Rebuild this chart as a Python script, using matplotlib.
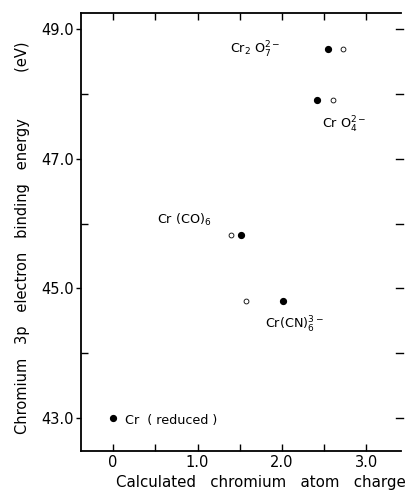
import matplotlib
matplotlib.use("Agg")
import matplotlib.pyplot as plt
import numpy as np

# Data (calculated charge, Cr 3p binding energy)
compounds = ["Cr2O7", "CrO4", "Cr(CO)6", "Cr(CN)6", "Cr reduced"]
filled_x = [2.54, 2.41, 1.51, 2.01, 0.0]
filled_y = [48.69, 47.90, 45.83, 44.80, 43.0]
open_x = [2.72, 2.60, 1.40, 1.57]
open_y = [48.69, 47.90, 45.83, 44.80]

labels = [r"Cr$_2$ O$_7^{2-}$", r"Cr O$_4^{2-}$", r"Cr (CO)$_6$",
          r"Cr(CN)$_6^{3-}$", "Cr  ( reduced )"]
label_x = [1.38, 2.47, 0.52, 1.80, 0.14]
label_y = [48.68, 47.52, 46.05, 44.43, 42.96]

xticks = [0, 1.0, 2.0, 3.0]
xticklabels = ["0", "1.0", "2.0", "3.0"]
yticks = [43.0, 45.0, 47.0, 49.0]
yticklabels = ["43.0", "45.0", "47.0", "49.0"]

plt.rcParams['font.family'] = ['DejaVu Sans']
plt.rcParams['mathtext.fontset'] = 'dejavusans'

fig = plt.figure(figsize=(4.06, 4.91), dpi=100)
ax = fig.add_axes([81/406, 1-451/491, 320/406, 438/491])
ax.set_xlim(-0.38, 3.41)
ax.set_ylim(42.49, 49.25)

ax.plot(filled_x, filled_y, 'o', color='black', markersize=4.2, linestyle='none')
ax.plot(open_x, open_y, 'o', markerfacecolor='white', markeredgecolor='black',
        markeredgewidth=0.6, markersize=3.5, linestyle='none')

for t, x, y in zip(labels, label_x, label_y):
    ax.text(x, y, t, fontsize=9.2, va='center', ha='left')

ax.spines['right'].set_visible(False)
for s in ['left', 'bottom', 'top']:
    ax.spines[s].set_linewidth(1.3)

ax.set_xticks(xticks)
ax.set_xticklabels(xticklabels, fontsize=10.5)
ax.set_xticks(np.arange(-0.0, 3.41, 0.5), minor=True)
ax.tick_params(axis='x', which='both', direction='in', top=True, bottom=True,
               length=5, width=1)
ax.tick_params(axis='x', which='major', pad=3)

ax.set_yticks(yticks)
ax.set_yticklabels(yticklabels, fontsize=10.5)
ax.set_yticks([44.0, 46.0, 48.0], minor=True)
ax.tick_params(axis='y', which='major', direction='out', length=3.5, width=1,
               left=True, right=False, pad=1.5)
ax.tick_params(axis='y', which='minor', direction='in', length=5, width=1,
               left=True, right=False)

# right-edge short ticks at every integer
for yv in range(43, 50):
    ax.plot([3.35, 3.43], [yv, yv], color='black', lw=1, clip_on=False)

ax.set_xlabel("Calculated   chromium   atom   charge", fontsize=10.8)
ax.xaxis.set_label_coords(0.5625, -0.055)
ax.set_ylabel("Chromium   3p   electron   binding   energy          (eV)",
              fontsize=10.5)
ax.yaxis.set_label_coords(-0.158, 0.487)

fig.savefig("out.png", dpi=100)
